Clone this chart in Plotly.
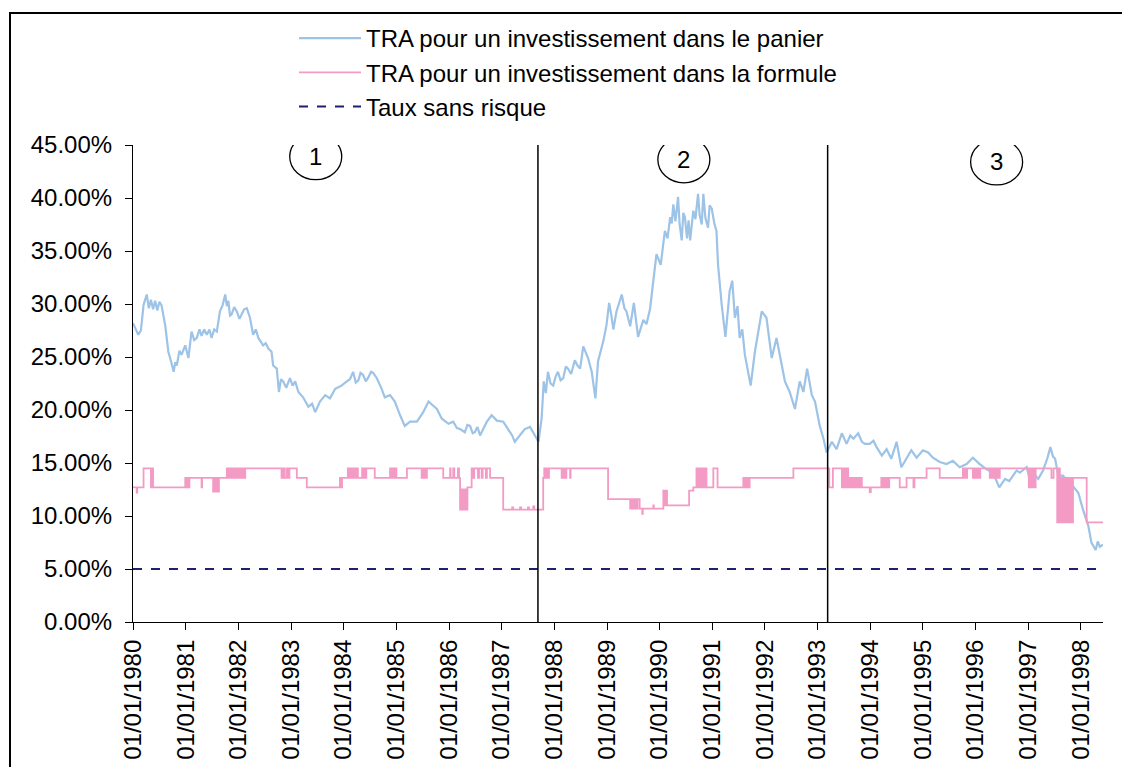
import datetime as dt
import plotly.graph_objects as go

# ---------------- data ----------------
blue_years = [
    1980.00, 1980.05, 1980.10, 1980.15, 1980.20, 1980.26, 1980.30, 1980.34, 1980.38, 1980.42,
    1980.46, 1980.50, 1980.54, 1980.61, 1980.67, 1980.72, 1980.77, 1980.80, 1980.83, 1980.88,
    1980.92, 1980.99, 1981.05, 1981.11, 1981.16, 1981.21, 1981.26, 1981.30, 1981.35, 1981.40,
    1981.45, 1981.49, 1981.54, 1981.59, 1981.65, 1981.70, 1981.75, 1981.78, 1981.81, 1981.84,
    1981.87, 1981.92, 1981.97, 1982.02, 1982.06, 1982.11, 1982.16, 1982.22, 1982.28, 1982.33,
    1982.38, 1982.47, 1982.52, 1982.57, 1982.63, 1982.66, 1982.73, 1982.77, 1982.81, 1982.85,
    1982.91, 1982.98, 1983.03, 1983.08, 1983.14, 1983.23, 1983.33, 1983.40, 1983.46, 1983.55,
    1983.65, 1983.74, 1983.84, 1983.96, 1984.06, 1984.12, 1984.18, 1984.23, 1984.28, 1984.32,
    1984.37, 1984.42, 1984.47, 1984.52, 1984.56, 1984.63, 1984.72, 1984.78, 1984.88, 1984.97,
    1985.07, 1985.16, 1985.26, 1985.39, 1985.51, 1985.61, 1985.70, 1985.77, 1985.86, 1985.99,
    1986.08, 1986.15, 1986.21, 1986.30, 1986.35, 1986.40, 1986.45, 1986.49, 1986.54, 1986.59,
    1986.65, 1986.72, 1986.81, 1986.91, 1987.03, 1987.13, 1987.20, 1987.25, 1987.35, 1987.44,
    1987.54, 1987.60, 1987.66, 1987.70, 1987.76, 1987.80, 1987.84, 1987.88, 1987.93, 1987.98,
    1988.03, 1988.07, 1988.12, 1988.17, 1988.22, 1988.26, 1988.32, 1988.39, 1988.44, 1988.49,
    1988.55, 1988.60, 1988.64, 1988.71, 1988.78, 1988.83, 1988.93, 1988.99, 1989.04, 1989.08,
    1989.12, 1989.18, 1989.23, 1989.28, 1989.33, 1989.37, 1989.44, 1989.51, 1989.59, 1989.64,
    1989.69, 1989.75, 1989.82, 1989.88, 1989.94, 1990.02, 1990.06, 1990.10, 1990.15, 1990.20,
    1990.23, 1990.26, 1990.30, 1990.35, 1990.38, 1990.42, 1990.45, 1990.48, 1990.52, 1990.55,
    1990.58, 1990.61, 1990.64, 1990.68, 1990.73, 1990.76, 1990.80, 1990.83, 1990.87, 1990.92,
    1990.95, 1990.99, 1991.04, 1991.08, 1991.11, 1991.18, 1991.25, 1991.33, 1991.38, 1991.43,
    1991.48, 1991.52, 1991.57, 1991.62, 1991.68, 1991.73, 1991.81, 1991.88, 1991.94, 1992.03,
    1992.08, 1992.13, 1992.22, 1992.28, 1992.38, 1992.47, 1992.57, 1992.66, 1992.73, 1992.80,
    1992.89, 1992.95, 1993.04, 1993.11, 1993.17, 1993.27, 1993.36, 1993.46, 1993.55, 1993.62,
    1993.68, 1993.77, 1993.84, 1993.90, 1993.99, 1994.06, 1994.12, 1994.22, 1994.31, 1994.40,
    1994.50, 1994.59, 1994.69, 1994.78, 1994.88, 1995.00, 1995.10, 1995.19, 1995.32, 1995.45,
    1995.57, 1995.70, 1995.83, 1995.95, 1996.08, 1996.21, 1996.33, 1996.45, 1996.56, 1996.64,
    1996.71, 1996.78, 1996.84, 1996.91, 1996.97, 1997.06, 1997.12, 1997.19, 1997.28, 1997.36,
    1997.42, 1997.47, 1997.51, 1997.57, 1997.66, 1997.76, 1997.85, 1997.95, 1998.04, 1998.14,
    1998.20, 1998.28, 1998.32, 1998.36, 1998.42,
]
blue_pct = [
    28.2, 27.6, 27.1, 27.5, 29.9, 30.9, 29.6, 30.4, 29.5, 30.3,
    29.4, 30.2, 29.9, 28.0, 25.5, 24.6, 23.6, 24.5, 24.2, 25.6,
    25.2, 26.1, 24.9, 27.4, 26.6, 26.8, 27.6, 27.0, 27.6, 27.1,
    27.6, 26.8, 27.6, 27.4, 29.3, 29.9, 30.9, 29.8, 30.3, 28.9,
    29.0, 29.7, 29.3, 28.6, 29.0, 29.5, 29.6, 28.7, 27.1, 27.6,
    26.8, 26.1, 26.3, 25.8, 25.5, 24.2, 23.9, 21.7, 22.9, 22.7,
    22.1, 23.0, 22.3, 22.7, 21.7, 21.2, 20.3, 20.6, 19.8, 20.8,
    21.4, 21.1, 22.0, 22.3, 22.7, 22.9, 23.6, 22.6, 22.8, 23.5,
    23.3, 22.7, 23.1, 23.6, 23.5, 23.0, 22.0, 21.2, 21.4, 20.8,
    19.5, 18.5, 18.9, 18.9, 19.8, 20.8, 20.4, 20.1, 19.2, 18.7,
    18.9, 18.3, 18.2, 17.9, 18.6, 18.5, 17.8, 17.9, 18.4, 17.6,
    18.2, 18.9, 19.5, 19.0, 18.9, 18.2, 17.6, 17.0, 17.6, 18.2,
    18.4, 17.9, 17.3, 17.0, 19.2, 22.7, 21.6, 23.6, 22.5, 22.3,
    23.2, 23.6, 22.8, 23.0, 24.1, 23.9, 23.4, 24.7, 24.2, 23.9,
    26.0, 25.4, 24.9, 23.6, 21.1, 24.6, 26.5, 28.0, 30.1, 29.0,
    27.6, 29.3, 30.2, 30.9, 29.6, 29.3, 27.9, 30.1, 26.9, 27.8,
    28.5, 28.1, 29.6, 32.2, 34.7, 33.7, 35.4, 36.9, 36.2, 38.2,
    37.6, 39.4, 37.8, 40.1, 37.5, 36.0, 38.6, 38.2, 36.2, 37.9,
    36.0, 37.4, 38.8, 38.0, 40.4, 38.4, 37.5, 40.4, 38.1, 37.2,
    39.3, 39.0, 37.6, 36.9, 33.7, 29.9, 26.9, 31.2, 32.2, 28.7,
    29.8, 26.8, 27.6, 25.2, 23.8, 22.3, 25.5, 27.6, 29.3, 28.7,
    26.9, 24.9, 26.8, 25.2, 22.7, 21.7, 20.1, 22.7, 21.7, 23.9,
    21.4, 20.8, 18.5, 17.3, 16.0, 17.0, 16.3, 17.8, 16.8, 17.6,
    17.3, 17.8, 17.0, 16.8, 16.8, 17.1, 16.5, 15.7, 16.3, 15.4,
    17.0, 14.6, 15.4, 16.2, 15.5, 16.2, 16.0, 15.5, 15.1, 14.9,
    15.2, 14.6, 14.9, 15.5, 14.9, 14.4, 14.1, 12.7, 13.5, 13.3,
    13.8, 14.3, 14.1, 14.4, 14.6, 12.8, 13.9, 13.5, 14.3, 15.4,
    16.5, 15.6, 15.4, 13.8, 13.8, 13.2, 12.8, 12.2, 10.6, 9.1,
    7.5, 6.8, 7.6, 7.1, 7.3,
]

pink_years = [
    1980.00, 1980.07, 1980.08, 1980.20, 1980.34, 1980.35, 1980.36, 1980.37, 1980.38,
    1980.99, 1981.01, 1981.03, 1981.05, 1981.07, 1981.30, 1981.31,
    1981.52, 1981.54, 1981.56, 1981.58, 1981.60, 1981.63,
    1981.78, 1981.80, 1981.82, 1981.85, 1981.87, 1981.90, 1981.92, 1981.95, 1981.97,
    1982.00, 1982.03, 1982.05, 1982.08, 1982.10, 1982.13,
    1982.82, 1982.85, 1982.88, 1982.92, 1982.95, 1982.97, 1983.11, 1983.30,
    1983.93, 1983.95, 1983.97, 1984.08, 1984.10, 1984.12, 1984.15, 1984.18, 1984.21, 1984.24,
    1984.27, 1984.31, 1984.35, 1984.37, 1984.39, 1984.41, 1984.43, 1984.59,
    1984.88, 1984.90, 1984.92, 1984.95, 1984.97, 1985.00, 1985.20,
    1985.48, 1985.50, 1985.52, 1985.54, 1985.56, 1985.58, 1985.89,
    1986.02, 1986.03, 1986.08, 1986.10, 1986.17, 1986.19,
    1986.21, 1986.23, 1986.25, 1986.27, 1986.29, 1986.31, 1986.33, 1986.35,
    1986.43, 1986.46, 1986.48, 1986.55, 1986.57, 1986.62, 1986.64, 1986.70, 1986.72, 1986.78,
    1987.03, 1987.20, 1987.22, 1987.35, 1987.37, 1987.50, 1987.52, 1987.60, 1987.62,
    1987.79, 1987.81, 1987.84, 1987.86, 1987.88, 1987.90,
    1988.14, 1988.16, 1988.18, 1988.20, 1988.22, 1988.23, 1988.30, 1988.31,
    1989.02, 1989.44, 1989.46, 1989.49, 1989.52, 1989.55, 1989.58, 1989.62,
    1989.67, 1989.68, 1989.88, 1989.89,
    1990.07, 1990.09, 1990.10, 1990.12, 1990.13, 1990.14, 1990.56, 1990.64,
    1990.70, 1990.72, 1990.74, 1990.76, 1990.78, 1990.80, 1990.82, 1990.84, 1990.86, 1990.89,
    1991.02, 1991.10, 1991.59, 1991.61, 1991.63, 1991.65, 1991.67, 1991.69, 1991.71,
    1992.54, 1993.22, 1993.29,
    1993.46, 1993.48, 1993.50, 1993.52, 1993.54, 1993.56, 1993.58, 1993.61,
    1993.63, 1993.65, 1993.67, 1993.70, 1993.72, 1993.75, 1993.78, 1993.81, 1993.84,
    1993.99, 1994.01, 1994.21, 1994.23, 1994.26, 1994.28, 1994.31, 1994.33, 1994.36,
    1994.56, 1994.69, 1994.82, 1994.84, 1995.07, 1995.32, 1995.76,
    1995.78, 1995.80, 1995.82, 1995.84, 1995.95, 1995.97, 1995.99, 1996.01, 1996.03, 1996.05,
    1996.07, 1996.09, 1996.27, 1996.30, 1996.32, 1996.35, 1996.38, 1996.41, 1996.44, 1996.46,
    1997.01, 1997.03, 1997.05, 1997.07, 1997.09, 1997.11, 1997.13, 1997.14, 1997.44, 1997.48,
    1997.55, 1997.58, 1997.60, 1997.62, 1997.64, 1997.66, 1997.68, 1997.70, 1997.73, 1997.76,
    1997.79, 1997.82, 1997.84, 1997.85, 1998.11, 1998.42,
]
pink_pct = [
    12.7, 12.2, 12.7, 14.5, 12.7, 14.5, 12.7, 14.5, 12.7,
    13.6, 12.7, 13.6, 12.7, 13.6, 12.7, 13.6,
    12.3, 13.6, 12.3, 13.6, 12.3, 13.6,
    14.5, 13.6, 14.5, 13.6, 14.5, 13.6, 14.5, 13.6, 14.5,
    13.6, 14.5, 13.6, 14.5, 13.6, 14.5,
    13.6, 14.5, 13.6, 14.5, 13.6, 14.5, 13.6, 12.7,
    13.6, 12.7, 13.6, 14.5, 13.6, 14.5, 13.6, 14.5, 13.6, 14.5,
    13.6, 13.6, 14.5, 13.6, 14.5, 13.6, 14.5, 13.6,
    14.5, 13.6, 14.5, 13.6, 14.5, 13.6, 14.5,
    13.6, 14.5, 13.6, 14.5, 13.6, 14.5, 13.6,
    14.5, 13.6, 14.5, 13.6, 14.5, 13.6,
    10.6, 12.5, 10.6, 12.5, 10.6, 12.5, 10.6, 12.7,
    14.5, 13.6, 14.5, 13.6, 14.5, 13.6, 14.5, 13.6, 14.5, 13.6,
    10.6, 10.8, 10.6, 10.8, 10.6, 10.8, 10.6, 10.9, 10.6,
    13.6, 14.5, 13.6, 14.5, 13.6, 14.5,
    13.6, 14.5, 13.6, 14.5, 13.6, 14.5, 13.6, 14.5,
    11.6, 10.7, 11.6, 10.7, 11.6, 10.7, 11.6, 10.7,
    10.2, 10.7, 11.0, 10.7,
    12.4, 11.0, 12.4, 11.0, 12.4, 11.0, 12.4, 12.7,
    14.5, 12.7, 14.5, 12.7, 14.5, 12.7, 14.5, 12.7, 14.5, 12.7,
    14.5, 12.7, 13.6, 12.7, 13.6, 12.7, 13.6, 12.7, 13.6,
    14.5, 12.7, 14.5,
    12.7, 14.5, 12.7, 14.5, 12.7, 14.5, 12.7, 13.6,
    12.7, 13.6, 12.7, 13.6, 12.7, 13.6, 12.7, 13.6, 12.7,
    12.25, 12.7, 13.6, 12.7, 13.6, 12.7, 13.6, 12.7, 13.6,
    12.7, 13.6, 12.7, 13.6, 14.5, 13.6, 14.5,
    13.6, 14.5, 13.6, 14.5, 13.6, 14.5, 13.6, 14.5, 13.6, 14.5,
    13.6, 14.5, 13.6, 14.5, 13.6, 14.5, 13.6, 14.5, 13.6, 14.5,
    12.7, 14.5, 12.7, 14.5, 12.7, 14.5, 12.7, 14.5, 13.6, 14.5,
    9.4, 14.5, 9.4, 13.6, 9.4, 13.6, 9.4, 13.6, 9.4, 13.6,
    9.4, 13.6, 9.4, 13.6, 9.4, 9.4,
]

risk_free_pct = 5.0
period_breaks = [1987.69, 1993.19]          # vertical separators
period_labels = ["1", "2", "3"]
period_label_years = [1983.47, 1990.46, 1996.40]
period_label_pct = [43.9, 43.6, 43.4]

tick_years = list(range(1980, 1999))
y_ticks = [0, 5, 10, 15, 20, 25, 30, 35, 40, 45]

series_names = [
    "TRA pour un investissement dans le panier",
    "TRA pour un investissement dans la formule",
    "Taux sans risque",
]


def to_date(y):
    yr = int(y)
    start = dt.datetime(yr, 1, 1)
    end = dt.datetime(yr + 1, 1, 1)
    return start + (end - start) * (y - yr)


blue_x = [to_date(v) for v in blue_years]
pink_x = [to_date(v) for v in pink_years]
x_start = to_date(1980.0)
x_end = to_date(1998.42)

FONT = "Liberation Sans, Arial, sans-serif"
BLUE = "#9DC3E6"
PINK = "#F39BC4"
NAVY = "#1F2170"

OFF = 8                                   # page body margin of the browser
W, H = 1130 - OFF, 775 - 2 * OFF          # keep the page free of scrollbars
L, R, T, B = 133 - OFF, 1103 - OFF, 145 - OFF, 622 - OFF   # plot area in figure px

fig = go.Figure()
fig.add_trace(go.Scatter(
    x=blue_x, y=[v / 100 for v in blue_pct], mode="lines", name=series_names[0],
    line=dict(color=BLUE, width=2.2),
))
fig.add_trace(go.Scatter(
    x=pink_x, y=[v / 100 for v in pink_pct], mode="lines", name=series_names[1],
    line=dict(color=PINK, width=1.8, shape="hv"),
))
fig.add_trace(go.Scatter(
    x=[x_start, x_end], y=[risk_free_pct / 100] * 2, mode="lines", name=series_names[2],
    line=dict(color=NAVY, width=2, dash="dash"),
))

# period separators
for b in period_breaks:
    fig.add_shape(type="line", xref="x", yref="y", x0=to_date(b), x1=to_date(b),
                  y0=0, y1=0.4615, line=dict(color="black", width=1.5))

# numbered circles
for lab, yr, p in zip(period_labels, period_label_years, period_label_pct):
    xd = to_date(yr)
    fig.add_shape(type="circle", xref="x", yref="y", xsizemode="pixel", ysizemode="pixel",
                  xanchor=xd, yanchor=p / 100, x0=-26, x1=26, y0=-23, y1=23,
                  line=dict(color="black", width=1.3), fillcolor="rgba(0,0,0,0)")
    fig.add_annotation(x=xd, y=p / 100, xref="x", yref="y", text=lab, showarrow=False,
                       font=dict(family=FONT, size=24, color="black"))

# outer chart frame (clipped at bottom like the reference)
fig.add_shape(type="rect", xref="paper", yref="paper",
              x0=(10 - OFF - L) / (R - L), x1=(1127 - OFF - L) / (R - L),
              y0=(B - 800) / (B - T), y1=(B - (13 - OFF)) / (B - T),
              line=dict(color="black", width=2), fillcolor="rgba(0,0,0,0)", layer="below")

fig.update_layout(
    width=W, height=H,
    margin=dict(l=L, r=W - R, t=T, b=H - B, autoexpand=False),
    paper_bgcolor="white", plot_bgcolor="white",
    font=dict(family=FONT, size=24, color="black"),
    showlegend=True,
    legend=dict(xref="container", yref="container", x=(294 - OFF) / W, y=1 - (16 - OFF) / H,
                xanchor="left", yanchor="top",
                bgcolor="rgba(0,0,0,0)", itemwidth=62, font=dict(size=24),
                tracegroupgap=0),
    xaxis=dict(
        type="date", range=[x_start, x_end], automargin=False,
        tickvals=[dt.datetime(y, 1, 1) for y in tick_years],
        ticktext=[f"01/01/{y}" for y in tick_years],
        tickangle=-90, ticks="outside", ticklen=7, tickcolor="black",
        showline=True, linecolor="black", linewidth=1.2, showgrid=False, zeroline=False,
        tickfont=dict(size=24),
    ),
    yaxis=dict(
        range=[0, 0.45], tickvals=[v / 100 for v in y_ticks], tickformat=".2%",
        automargin=False,
        ticks="outside", ticklen=7, tickcolor="black", ticklabelstandoff=8,
        showline=True, linecolor="black", linewidth=1.2, showgrid=False, zeroline=False,
        tickfont=dict(size=24),
    ),
)

fig.write_html("out.html")
